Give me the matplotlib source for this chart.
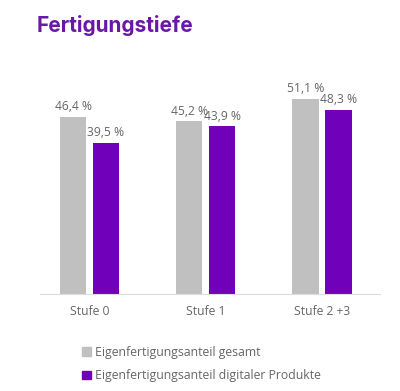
import numpy as np
import matplotlib.pyplot as plt
from matplotlib.patches import Patch

categories = ['Stufe 0', 'Stufe 1', 'Stufe 2 +3']
gesamt = [46.4, 45.2, 51.1]
digital = [39.5, 43.9, 48.3]
labels_gesamt = ['46,4 %', '45,2 %', '51,1 %']
labels_digital = ['39,5 %', '43,9 %', '48,3 %']
series_names = ['Eigenfertigungsanteil gesamt',
                'Eigenfertigungsanteil digitaler Produkte']

gray = '#c0c0c0'
purple = '#7000ba'
text_col = '#666666'

plt.rcParams['font.family'] = ['Open Sans', 'DejaVu Sans']

fig = plt.figure(figsize=(4, 3.91), dpi=100)
ax = fig.add_axes([0.1, 0.248, 0.85, 0.586])

x = np.arange(len(categories))
w = 0.224
off = 0.142
ax.bar(x - off, gesamt, w, color=gray)
ax.bar(x + off, digital, w, color=purple)

for xi, v, s in zip(x, gesamt, labels_gesamt):
    ax.text(xi - off, v + 1.0, s, ha='center', va='bottom', fontsize=8.7, color=text_col)
for xi, v, s in zip(x, digital, labels_digital):
    ax.text(xi + off, v + 1.0, s, ha='center', va='bottom', fontsize=8.7, color=text_col)

ax.set_xlim(-0.426, 2.499)
ax.set_ylim(0, 60)
ax.set_xticks(x)
ax.set_xticklabels(categories, fontsize=8.7, color=text_col)
ax.tick_params(axis='x', length=0, pad=8)
ax.set_yticks([])
for side in ['top', 'right', 'left']:
    ax.spines[side].set_visible(False)
ax.spines['bottom'].set_color('#dddddd')

fig.text(0.092, 0.935, 'Fertigungstiefe', fontsize=15, fontweight='bold',
         color='#6b17a8', ha='left', va='center', family=['Inter', 'DejaVu Sans'])

handles = [Patch(color=gray), Patch(color=purple)]
fig.legend(handles, series_names, loc='upper left', bbox_to_anchor=(0.205, 0.115),
           frameon=False, fontsize=8.8, handlelength=0.7, handleheight=0.7,
           handletextpad=0.35, labelspacing=0.85, labelcolor=text_col,
           borderaxespad=0, borderpad=0)

fig.savefig('out.png', dpi=100)
